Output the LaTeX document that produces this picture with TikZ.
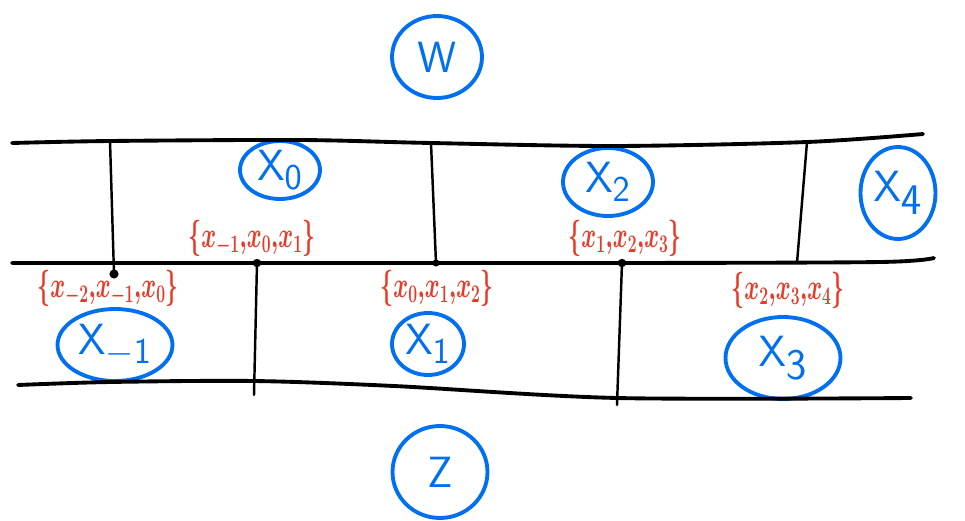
\documentclass[tikz,border=0pt]{standalone}
\usepackage{tikz}
\usetikzlibrary{shapes.geometric, positioning}
\definecolor{penblue}{RGB}{0,112,240}
\definecolor{penred}{RGB}{232,58,38}
\tikzset{
	factortext/.style={font=\fontsize{20}{22}\selectfont\color{penred}, inner sep=0pt}
}
\newcommand{\factorset}[1]{\scalebox{0.62}[1]{\boldmath$\{#1\}$}}

\begin{document}
\begin{tikzpicture}[x=0.02cm,y=-0.02cm]

\tikzset{
    varnode/.style={
        shape=ellipse,
        draw=penblue,
        line width=2.2pt,
        text=penblue,
        inner sep=0pt,
        font=\fontsize{30}{34}\selectfont
    },
    railline/.style={line width=2.2pt, line cap=round},
    rungline/.style={line width=1.4pt, line cap=round}
}

\useasboundingbox (0,0) rectangle (965,521);

\node[varnode, minimum width=1.8cm, minimum height=1.64cm, font=\fontsize{38}{42}\selectfont] (w) at (437,57) {$\mathsf{W}$};
\node[varnode, minimum width=1.9cm, minimum height=1.84cm, font=\fontsize{38}{42}\selectfont] (z) at (440,472) {$\mathsf{Z}$};

\node[varnode, minimum width=1.6cm, minimum height=1.16cm] (x0) at (280,170) {$\mathsf{X}_{\mathsf{0}}$};
\node[varnode, minimum width=1.8cm, minimum height=1.36cm] (x2) at (608,182) {$\mathsf{X}_{\mathsf{2}}$};
\node[varnode, minimum width=1.5cm, minimum height=1.84cm, font=\fontsize{36}{40}\selectfont] (x4) at (898,193) {$\mathsf{X}_{\mathsf{4}}$};
\node[varnode, minimum width=2.3cm, minimum height=1.44cm] (xm1) at (115,345) {$\mathsf{X}_{-\mathsf{1}}$};
\node[varnode, minimum width=1.44cm, minimum height=1.24cm] (x1) at (428,344) {$\mathsf{X}_{\mathsf{1}}$};
\node[varnode, minimum width=2.3cm, minimum height=1.64cm, font=\fontsize{34}{38}\selectfont] (x3) at (783,358) {$\mathsf{X}_{\mathsf{3}}$};

\node[factortext] (fm1) at (108,288) {\factorset{x_{-2}{,}x_{-1}{,}x_0}};
\node[factortext] (f0) at (252,238) {\factorset{x_{-1}{,}x_0{,}x_1}};
\node[factortext] (f1) at (437,288) {\factorset{x_0{,}x_1{,}x_2}};
\node[factortext] (f2) at (625,238) {\factorset{x_1{,}x_2{,}x_3}};
\node[factortext] (f3) at (788,290) {\factorset{x_2{,}x_3{,}x_4}};

\coordinate (ta) at (12,143);
\coordinate (tb) at (110,141);
\coordinate (tc) at (431,143);
\coordinate (td) at (807,142);
\coordinate (te) at (923,134);
\coordinate (ma) at (12,263);
\coordinate (mb) at (114,274);
\coordinate (mc) at (257,263);
\coordinate (md) at (436,263);
\coordinate (me) at (622,263);
\coordinate (mf) at (797,263);
\coordinate (mg) at (934,258);
\coordinate (ba) at (18,385);
\coordinate (bb) at (254,395);
\coordinate (bc) at (617,405);
\coordinate (bd) at (911,398);

\draw[railline] plot[smooth] coordinates {(ta) (tb) (300,140) (tc) (615,146) (td) (te)};
\draw[railline] plot[smooth] coordinates {(ma) (mc) (me) (880,262) (mg)};
\draw[railline] plot[smooth] coordinates {(ba) (110,382) (254,381) (394,386) (617,398) (bd)};

\draw[rungline] (tb) -- (mb);
\draw[rungline] (tc) -- (md);
\draw[rungline] (td) -- (mf);
\draw[rungline] (mc) -- (bb);
\draw[rungline] (me) -- (bc);

\fill (mb) circle (2.6pt);
\fill (mc) circle (2.4pt);
\fill (me) circle (2.4pt);
\fill (md) circle (2pt);
\end{tikzpicture}
\end{document}
